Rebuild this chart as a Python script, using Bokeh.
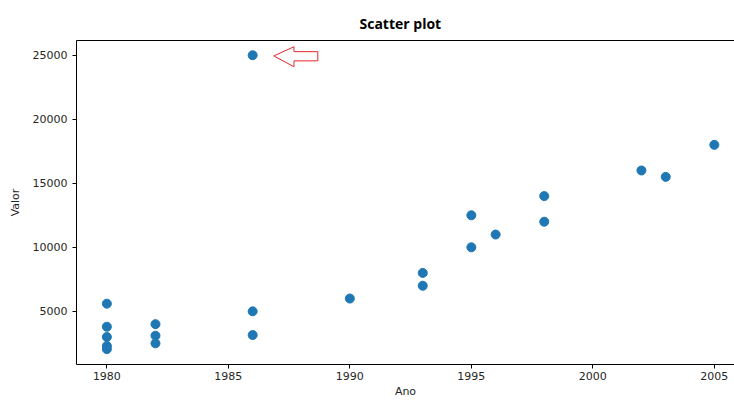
from bokeh.plotting import figure
from bokeh.models import Range1d, FixedTicker, LinearAxis, Title
from bokeh.embed import file_html
from bokeh.resources import INLINE

# Data
anos = [1980, 1980, 1980, 1980, 1980, 1982, 1982, 1982, 1986, 1986, 1986,
        1990, 1993, 1993, 1995, 1995, 1996, 1998, 1998, 2002, 2003, 2005]
valores = [5600, 3800, 3000, 2300, 2050, 4000, 3100, 2500, 25000, 5000, 3150,
           6000, 8000, 7000, 12500, 10000, 11000, 14000, 12000, 16000, 15500, 18000]
x_ticks = [1980, 1985, 1990, 1995, 2000, 2005]
y_ticks = [5000, 10000, 15000, 20000, 25000]

TICK_FONT = "DejaVu Sans"

p = figure(width=734, height=400, output_backend="svg", toolbar_location=None,
           x_range=Range1d(1978.75, 2005.83), y_range=Range1d(850, 26150),
           x_axis_label="Ano", y_axis_label="Valor")
p.min_border_left = 76
p.min_border_right = 0
p.min_border_top = 40
p.min_border_bottom = 33
p.outline_line_color = None
p.grid.visible = False
p.background_fill_color = "white"
p.border_fill_color = "white"

for ax in (p.xaxis[0], p.yaxis[0]):
    ax.axis_line_color = "#000000"
    ax.axis_line_width = 1
    ax.major_tick_line_color = "#000000"
    ax.major_tick_out = 4
    ax.major_tick_in = 0
    ax.minor_tick_line_color = None
    ax.major_label_text_font = TICK_FONT
    ax.major_label_text_font_size = "11px"
    ax.major_label_text_color = "#262626"
    ax.axis_label_text_font = TICK_FONT
    ax.axis_label_text_font_size = "11px"
    ax.axis_label_text_font_style = "normal"
    ax.axis_label_text_color = "#262626"

p.xaxis[0].ticker = FixedTicker(ticks=x_ticks)
p.yaxis[0].ticker = FixedTicker(ticks=y_ticks)
p.xaxis[0].major_label_standoff = 3
p.xaxis[0].axis_label_standoff = 2
p.yaxis[0].major_label_standoff = 5
p.yaxis[0].axis_label_standoff = 8

# top spine (closest to the frame)
top = LinearAxis(ticker=FixedTicker(ticks=[]), axis_line_color="#000000",
                 major_tick_line_color=None, minor_tick_line_color=None,
                 major_label_text_font_size="0px")
p.add_layout(top, "above")

t = Title(text="Scatter plot", align="left", offset=283, text_font="Open Sans",
          text_font_size="14px", text_font_style="bold", text_color="#000000",
          standoff=16)
p.add_layout(t, "above")

p.scatter(anos, valores, size=9, color="#1f77b4", line_color="#1f77b4")

# red arrow annotation pointing at the outlier
arrow_x = [1986.87, 1987.70, 1987.70, 1988.68, 1988.68, 1987.70, 1987.70]
arrow_y = [24946, 25663, 25278, 25278, 24560, 24560, 24100]
p.patch(arrow_x, arrow_y, fill_color="white", line_color="#e8262b", line_width=1)

open("out.html", "w").write(file_html(p, INLINE))
